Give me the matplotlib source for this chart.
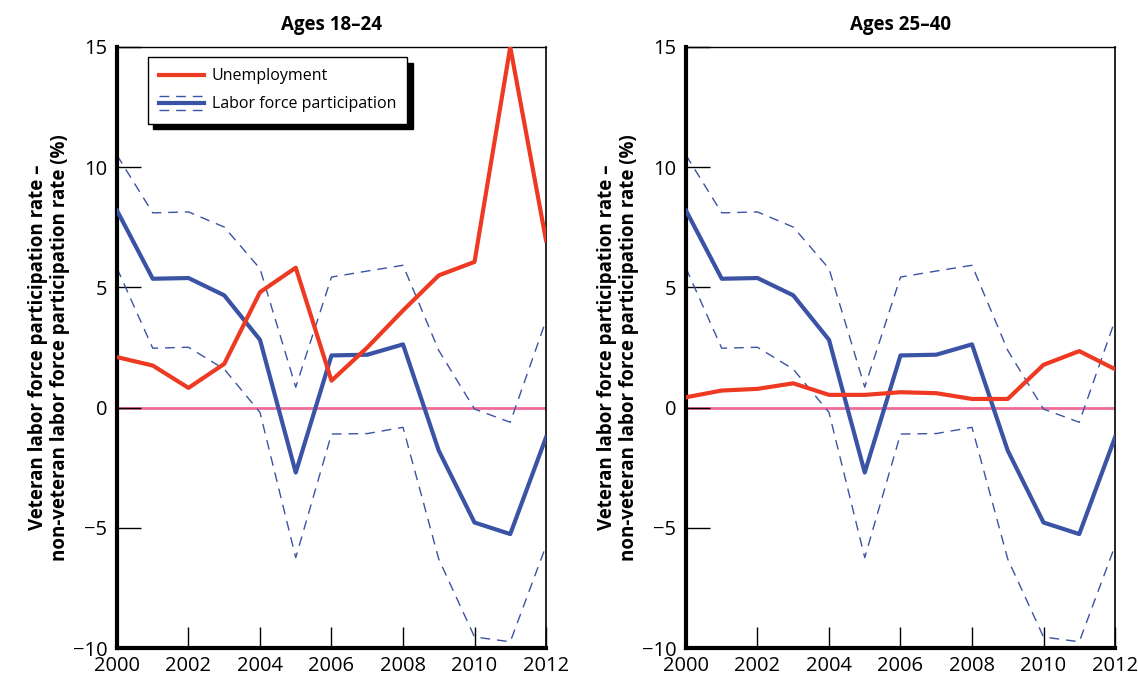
import matplotlib
matplotlib.use('Agg')
import matplotlib.pyplot as plt
from matplotlib.lines import Line2D
from matplotlib.legend_handler import HandlerBase

plt.rcParams['font.family'] = ['Open Sans', 'DejaVu Sans']

years = list(range(2000, 2013))

# labor force participation difference (same in both panels) and its band
lfp = [8.2, 5.36, 5.39, 4.67, 2.82, -2.7, 2.17, 2.2, 2.63, -1.79, -4.78, -5.26, -1.24]
lfp_hi = [10.5, 8.1, 8.14, 7.51, 5.78, 0.85, 5.43, 5.68, 5.92, 2.38, -0.06, -0.61, 3.63]
lfp_lo = [5.8, 2.47, 2.51, 1.6, -0.2, -6.24, -1.1, -1.08, -0.82, -6.3, -9.54, -9.74, -5.75]

# unemployment difference
unemp_18_24 = [2.1, 1.75, 0.82, 1.82, 4.8, 5.82, 1.12, 2.5, 4.04, 5.5, 6.06, 15.0, 6.96]
unemp_25_40 = [0.43, 0.71, 0.78, 1.01, 0.53, 0.53, 0.64, 0.6, 0.36, 0.36, 1.78, 2.35, 1.6]

titles = ['Ages 18\u201324', 'Ages 25\u201340']
ylabel = 'Veteran labor force participation rate \u2013\nnon-veteran labor force participation rate (%)'

RED = '#ee3a23'
BLUE = '#3a53a4'
PINK = '#f06c9b'


class HandlerBand(HandlerBase):
    # solid blue line with a thin dashed line above and below
    def create_artists(self, legend, orig_handle, xdescent, ydescent,
                       width, height, fontsize, trans):
        x = [-xdescent, -xdescent + width]
        yc = -ydescent + height / 2
        off = height * 0.65
        arts = [
            Line2D(x, [yc + off] * 2, color=BLUE, lw=1.0, dashes=(7, 5)),
            Line2D(x, [yc] * 2, color=BLUE, lw=3.0),
            Line2D(x, [yc - off] * 2, color=BLUE, lw=1.0, dashes=(7, 5)),
        ]
        for a in arts:
            a.set_transform(trans)
        return arts


fig = plt.figure(figsize=(11.38, 6.84), dpi=100)
ax1 = fig.add_axes([0.1028, 0.0526, 0.377, 0.8787])
ax2 = fig.add_axes([0.6028, 0.0526, 0.377, 0.8787])

for ax, unemp, title in zip([ax1, ax2], [unemp_18_24, unemp_25_40], titles):
    ax.axhline(0, color=PINK, lw=2, zorder=1)
    ax.plot(years, lfp_hi, color=BLUE, lw=1.0, dashes=(7, 5), zorder=2)
    ax.plot(years, lfp_lo, color=BLUE, lw=1.0, dashes=(7, 5), zorder=2)
    band, = ax.plot(years, lfp, color=BLUE, lw=3.0, zorder=3)
    red, = ax.plot(years, unemp, color=RED, lw=3.0, zorder=4)

    ax.set_xlim(2000, 2012)
    ax.set_ylim(-10, 15)
    ax.set_xticks(range(2000, 2013, 2))
    ax.set_yticks([-10, -5, 0, 5, 10, 15])
    ax.set_yticklabels(['\u221210', '\u22125', '0', '5', '10', '15'])
    ax.tick_params(axis='y', direction='in', length=17, width=1, labelsize=14.5, pad=7)
    ax.tick_params(axis='x', direction='in', length=15, width=1, labelsize=14.5, pad=6)
    ax.spines['left'].set_linewidth(3)
    ax.spines['bottom'].set_linewidth(3)
    ax.spines['top'].set_linewidth(1)
    ax.spines['right'].set_linewidth(1.2)
    ax.set_title(title, fontsize=13.5, fontweight='bold', pad=12)
    ax.set_ylabel(ylabel, fontsize=13.5, fontweight='bold', labelpad=2, linespacing=1.1)

leg = ax1.legend([red, band], ['Unemployment', 'Labor force participation'],
                 handler_map={band: HandlerBand()},
                 loc='upper left', bbox_to_anchor=(0.072, 0.983),
                 fontsize=11.5, frameon=True, fancybox=False,
                 shadow={'color': 'black', 'alpha': 1, 'ox': 4, 'oy': -4},
                 handlelength=2.8, handletextpad=0.5, borderpad=0.7,
                 labelspacing=0.75, borderaxespad=0)
leg.get_frame().set_edgecolor('black')
leg.get_frame().set_linewidth(1)

fig.savefig('out.png', dpi=100)
